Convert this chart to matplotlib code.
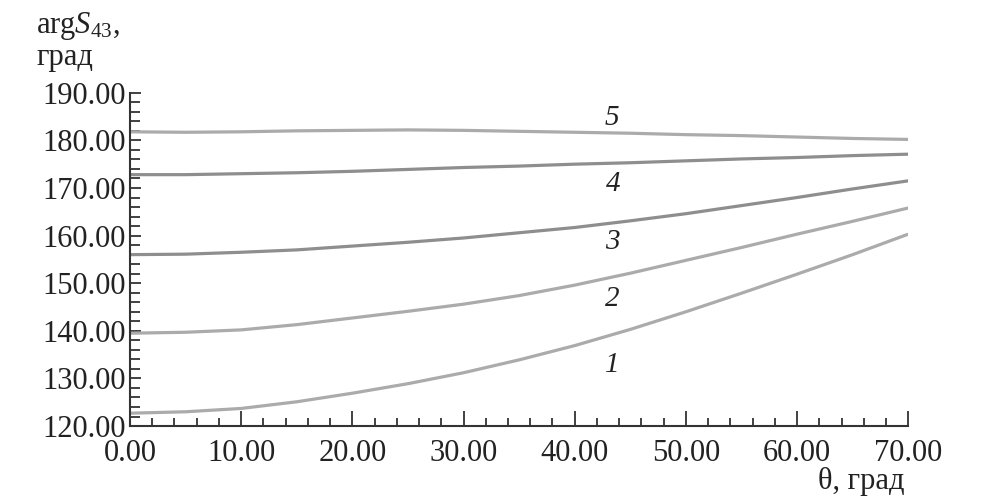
import matplotlib
matplotlib.use("Agg")
import matplotlib.pyplot as plt
from matplotlib.ticker import MultipleLocator, FormatStrFormatter

theta = [0, 5, 10, 15, 20, 25, 30, 35, 40, 45, 50, 55, 60, 65, 70]
curve1 = [122.7, 123.0, 123.7, 125.1, 126.9, 128.9, 131.2, 133.9, 136.9, 140.3, 144.0, 147.9, 151.9, 156.0, 160.3]
curve2 = [139.5, 139.7, 140.2, 141.3, 142.7, 144.1, 145.6, 147.4, 149.6, 152.1, 154.8, 157.5, 160.3, 163.0, 165.8]
curve3 = [156.0, 156.1, 156.5, 157.0, 157.8, 158.6, 159.5, 160.6, 161.7, 163.1, 164.6, 166.3, 168.0, 169.8, 171.5]
curve4 = [172.8, 172.8, 173.0, 173.2, 173.5, 173.9, 174.3, 174.6, 175.0, 175.3, 175.7, 176.1, 176.4, 176.8, 177.1]
curve5 = [181.8, 181.7, 181.8, 182.0, 182.1, 182.2, 182.1, 181.9, 181.7, 181.5, 181.2, 181.0, 180.7, 180.4, 180.2]
curve_labels = ["1", "2", "3", "4", "5"]
label_pos = [(43.4, 131.4), (43.4, 145.2), (43.4, 157.2), (43.5, 169.3), (43.3, 183.2)]

plt.rcParams['font.family'] = ['Liberation Serif', 'DejaVu Serif']
plt.rcParams['mathtext.fontset'] = 'custom'
plt.rcParams['mathtext.rm'] = 'Liberation Serif'
plt.rcParams['mathtext.it'] = 'Liberation Serif:italic'

fig = plt.figure(figsize=(10.08, 4.96), dpi=100)
ax = fig.add_axes([0.129, 0.141, 0.772, 0.672])

light = '#ababab'
dark = '#8e8e8e'
colors = [light, light, dark, dark, light]
for ys, c in zip([curve1, curve2, curve3, curve4, curve5], colors):
    ax.plot(theta, ys, color=c, lw=2.3, solid_capstyle='butt', solid_joinstyle='round')

for lab, (lx, ly) in zip(curve_labels, label_pos):
    ax.text(lx, ly, lab, fontsize=21, style='italic', color='#222222',
            ha='center', va='baseline')

ax.set_xlim(0, 70)
ax.set_ylim(120, 190)
ax.xaxis.set_major_locator(MultipleLocator(10))
ax.xaxis.set_minor_locator(MultipleLocator(2))
ax.yaxis.set_major_locator(MultipleLocator(10))
ax.yaxis.set_minor_locator(MultipleLocator(2))
ax.xaxis.set_major_formatter(FormatStrFormatter('%.2f'))
ax.yaxis.set_major_formatter(FormatStrFormatter('%.2f'))

for s in ['top', 'right']:
    ax.spines[s].set_visible(False)
for s in ['left', 'bottom']:
    ax.spines[s].set_color('#333333')
    ax.spines[s].set_linewidth(1.5)

ax.tick_params(axis='both', which='both', direction='in', color='#333333',
               labelsize=22, labelcolor='#222222', width=1.3)
ax.tick_params(axis='x', which='major', length=11, pad=9)
ax.tick_params(axis='x', which='minor', length=6)
ax.tick_params(axis='y', which='major', length=8, pad=3)
ax.tick_params(axis='y', which='minor', length=7)

fig.text(0.036, 0.948, r'$\mathrm{arg}S_{43}$,', fontsize=22, color='#222222',
         ha='left', va='center')
fig.text(0.036, 0.885, 'град', fontsize=22, color='#222222',
         ha='left', va='center')
fig.text(0.897, 0.0, 'θ, град', fontsize=22, color='#222222',
         ha='right', va='bottom')

fig.savefig('out.png', dpi=100)
